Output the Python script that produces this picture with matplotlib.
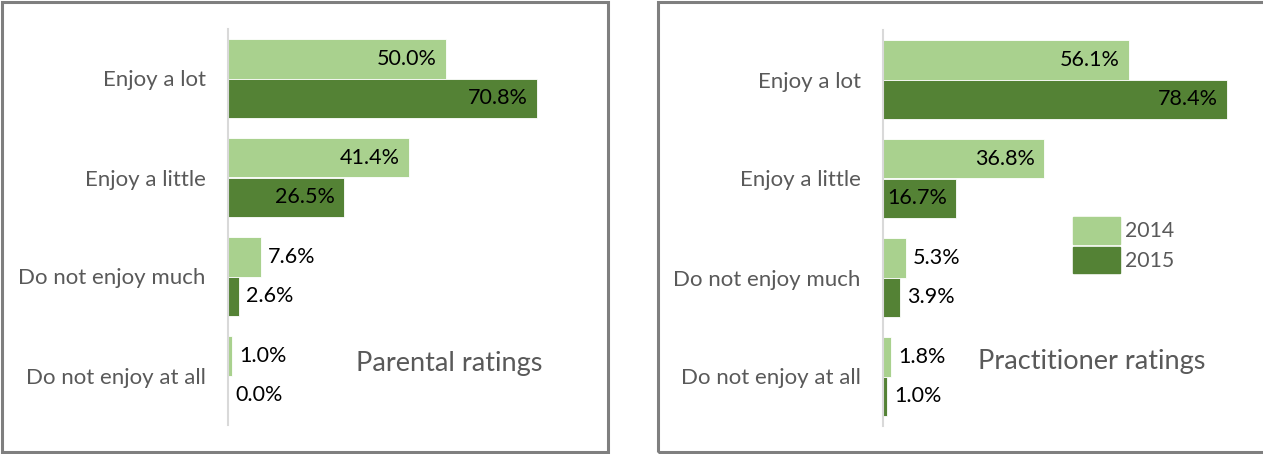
import matplotlib
matplotlib.use("Agg")
from matplotlib import pyplot as plt
from matplotlib.patches import Rectangle, Patch
import numpy as np

plt.rcParams['font.family'] = ['Lato', 'DejaVu Sans']

# survey answers, top to bottom
categories = ["Enjoy a lot", "Enjoy a little", "Do not enjoy much", "Do not enjoy at all"]
years = ["2014", "2015"]

parent_2014 = [50.0, 41.4, 7.6, 1.0]
parent_2015 = [70.8, 26.5, 2.6, 0.0]
pract_2014 = [56.1, 36.8, 5.3, 1.8]
pract_2015 = [78.4, 16.7, 3.9, 1.0]

LIGHT = "#A9D18E"
DARK = "#548235"
GREY_TXT = "#595959"
W, H = 1263, 454


def px_axes(fig, x0, x1, y0, y1):
    # axes placed by pixel box (y measured from top)
    return fig.add_axes([x0 / W, 1 - y1 / H, (x1 - x0) / W, (y1 - y0) / H])


def draw_panel(ax, v14, v15, title, tx, ty):
    y = np.arange(len(categories))
    h = 0.394
    b1 = ax.barh(y - h / 2, v14, height=h, color=LIGHT, edgecolor="white", linewidth=0.6)
    b2 = ax.barh(y + h / 2, v15, height=h, color=DARK, edgecolor="white", linewidth=0.6)
    for bars, vals in ((b1, v14), (b2, v15)):
        for bar, v in zip(bars, vals):
            yc = bar.get_y() + bar.get_height() / 2
            if v > 10:
                ax.annotate(f"{v:.1f}%", (v, yc), xytext=(-9, 0), textcoords="offset pixels",
                            ha="right", va="center", fontsize=15.5, color="black")
            else:
                ax.annotate(f"{v:.1f}%", (v, yc), xytext=(7, 0), textcoords="offset pixels",
                            ha="left", va="center", fontsize=15.5, color="black")
    ax.set_ylim(3.5, -0.5)
    ax.set_xlim(0, 80)
    ax.set_yticks(y)
    ax.set_yticklabels(categories, fontsize=16, color=GREY_TXT)
    ax.tick_params(axis="y", length=0, pad=16)
    ax.set_xticks([])
    for s in ("top", "right", "bottom"):
        ax.spines[s].set_visible(False)
    ax.spines["left"].set_color("#D9D9D9")
    ax.spines["left"].set_linewidth(1.5)
    ax.figure.text(tx / W, 1 - ty / H, title, fontsize=19.5, color=GREY_TXT, ha="left", va="center")
    return b1, b2


fig = plt.figure(figsize=(W / 100, H / 100), dpi=100)

ax1 = px_axes(fig, 228, 577, 29, 425)
draw_panel(ax1, parent_2014, parent_2015, "Parental ratings", 356, 364)

ax2 = px_axes(fig, 883, 1234, 30, 426)
draw_panel(ax2, pract_2014, pract_2015, "Practitioner ratings", 978, 361)

handles = [Patch(color=LIGHT), Patch(color=DARK)]
leg = fig.legend(handles, years, loc="upper left", bbox_to_anchor=(1073 / W, 1 - 217 / H),
                 bbox_transform=fig.transFigure, frameon=False, borderpad=0, fontsize=15.3,
                 handlelength=2.2, handleheight=1.55, labelspacing=0.15, handletextpad=0.25,
                 borderaxespad=0)
for t in leg.get_texts():
    t.set_color(GREY_TXT)

# panel frames
for x0, x1 in ((2, 608), (658, 1266)):
    fig.add_artist(Rectangle((x0 / W, 2 / H), (x1 - x0) / W, (H - 4) / H,
                             transform=fig.transFigure, fill=False,
                             edgecolor="#7F7F7F", linewidth=2.2))

fig.savefig("out.png", dpi=100)
